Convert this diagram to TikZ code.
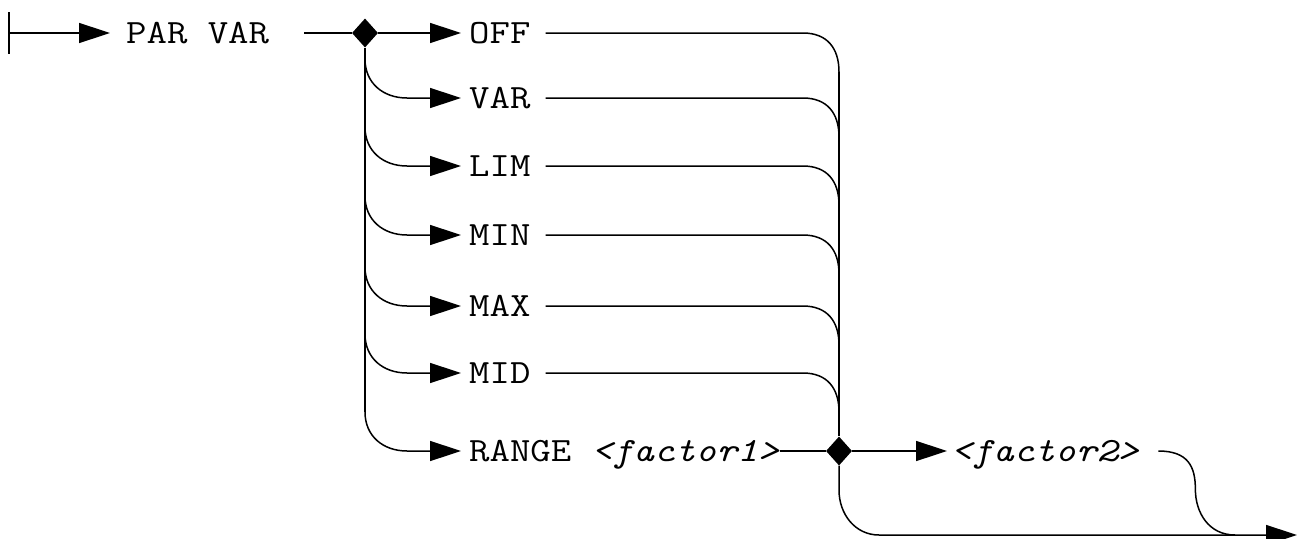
\documentclass[tikz,border=0pt]{standalone}
\usepackage{fontspec}
\newfontfamily\monofam{Latin Modern Mono}[FakeStretch=1.165]
\usetikzlibrary{arrows.meta,calc,shapes.geometric}
\begin{document}
\begin{tikzpicture}[x=1pt,y=-1pt,
  ln/.style={line width=1.5pt},
  arr/.style={ln,-{Triangle[length=31pt,width=20pt]}},
  txt/.style={inner sep=0pt,anchor=west,font=\monofam\fontsize{34}{40}\selectfont,text height=20pt,text depth=0pt},
  dia/.style={diamond,fill=black,draw=none,inner sep=0pt,minimum width=26pt,minimum height=29pt}]
\useasboundingbox (0,0) rectangle (1297,538);
% nodes
\coordinate (start) at (9,33);
\node[txt] (par) at (126,33) {PAR VAR};
\node[dia] (d1) at (365,33) {};
\node[txt] (off) at (469,33) {OFF};
\node[txt] (var) at (469,98) {VAR};
\node[txt] (lim) at (469,166) {LIM};
\node[txt] (min) at (469,235) {MIN};
\node[txt] (max) at (469,306) {MAX};
\node[txt] (mid) at (469,373) {MID};
\node[txt] (range) at (469,451) {RANGE \textit{<factor1>}};
\node[dia] (d2) at (839,451) {};
\node[txt] (f2) at (951,451) {\textit{<factor2>}};
\coordinate (end) at (1297,535);
% start
\draw[ln] ($(start)+(0,-21)$) -- ($(start)+(0,21)$);
\draw[arr] (start) -- ($(par.west)+(-16,0)$);
\draw[ln] ($(par.east)+(35,0)$) -- (d1.west);
% left fan
\draw[arr] (d1.east) -- ($(off.west)+(-8,0)$);
\draw[ln] (d1.south) -- ($(d1|-range.west)+(0,-39)$);
\foreach \n in {var,lim,min,max,mid,range}{
  \draw[arr] ($(d1|-\n.west)+(0,-39)$) .. controls +(0,24) and +(-24,0) .. ($(\n.west)+(-62,0)$) -- ($(\n.west)+(-8,0)$);
}
% right fan
\foreach \n in {off,var,lim,min,max,mid}{
  \draw[ln] ($(\n.east)+(15,0)$) -- ($(d2|-\n.east)+(-36,0)$) .. controls +(24,0) and +(0,-24) .. ($(d2|-\n.east)+(0,39)$);
}
\draw[ln] ($(d2|-off.east)+(0,39)$) -- (d2.north);
\draw[ln] (range.east) -- (d2.west);
% end part
\draw[arr] (d2.east) -- ($(f2.west)+(-4,0)$);
\draw[ln] ($(f2.east)+(19,0)$) .. controls +(30,0) and +(0,-22) .. ($(f2.east)+(56,38)$)
  .. controls +(0,24) and +(-26,0) .. ($(end)+(-62,0)$);
\draw[arr] (d2.south) -- ($(d2)+(0,39)$) .. controls +(0,24) and +(-24,0) .. ($(d2|-end)+(40,0)$) -- (end);
\end{tikzpicture}
\end{document}
